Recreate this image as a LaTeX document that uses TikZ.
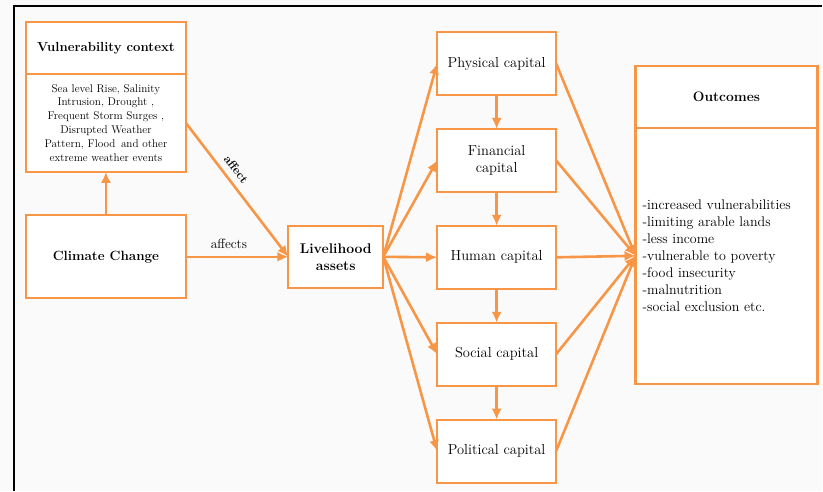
\documentclass[tikz,border=0pt]{standalone}
\usepackage{tikz}
\usetikzlibrary{arrows.meta, positioning}
\definecolor{orng}{RGB}{247,150,70}
\definecolor{bgc}{RGB}{250,250,250}
\begin{document}
\begin{tikzpicture}[
x=1pt, y=-1pt,
block/.style={draw=orng, line width=2.2pt, fill=white, outer sep=0pt, inner sep=2pt, minimum width=119pt, minimum height=63pt, align=center, font=\fontsize{14.5}{17}\selectfont},
arr/.style={-{Latex[length=11pt,width=10pt]}, draw=orng, line width=2.6pt},
node distance=34pt
]
\fill[bgc] (0,0) rectangle (823,491);
\draw[line width=1.2pt] (14,491) -- (14,6) -- (823,6);

\node[block, minimum width=160pt, minimum height=52pt, font=\fontsize{13.2}{15}\selectfont\bfseries] (vc) at (106,48) {Vulnerability context};
\node[block, minimum width=160pt, minimum height=98pt, below=0pt of vc, font=\fontsize{11.2}{13.9}\selectfont] (vcb) {Sea level Rise, Salinity\\Intrusion, Drought ,\\Frequent Storm Surges ,\\Disrupted Weather\\Pattern, Flood\, and other\\extreme weather events};
\node[block, minimum width=160pt, minimum height=83pt, font=\fontsize{13.4}{15}\selectfont\bfseries] (cc) at (106,257) {Climate Change};
\node[block, minimum width=95pt, minimum height=62pt, font=\fontsize{14}{17}\selectfont\bfseries] (la) at (336,257) {Livelihood\\assets};

\node[block] (phy) at (497,63.5) {Physical capital};
\node[block, below=of phy] (fin) {Financial\\capital};
\node[block, below=of fin] (hum) {Human capital};
\node[block, below=of hum] (soc) {Social capital};
\node[block, below=of soc] (pol) {Political capital};

\node[block, minimum width=182pt, minimum height=62pt, font=\fontsize{13.8}{16}\selectfont\bfseries] (out) at (727,97) {Outcomes};
\node[block, minimum width=182pt, minimum height=256pt, below=0pt of out, text width=168pt, inner xsep=7pt, align=left, font=\fontsize{14}{17}\selectfont] (outb) {-increased vulnerabilities\\-limiting arable lands\\-less income\\-vulnerable to poverty\\-food insecurity\\-malnutrition\\-social exclusion etc.};

\draw[arr] (cc) -- (vcb);
\draw[arr] (cc.east) -- node[pos=0.42, above=4pt, font=\fontsize{13.4}{15}\selectfont] {affects} (la.west);
\draw[arr] (vcb.east) -- node[pos=0.4, above=3pt, sloped, font=\fontsize{12}{14}\selectfont\bfseries] {affect} (la.west);

\foreach \c in {phy, fin, hum, soc, pol}
  \draw[arr] (la.east) -- (\c.west);
\draw[arr] (phy) -- (fin);
\draw[arr] (fin) -- (hum);
\draw[arr] (hum) -- (soc);
\draw[arr] (soc) -- (pol);
\foreach \c in {phy, fin, hum, soc, pol}
  \draw[arr] (\c.east) -- (outb.west);
\end{tikzpicture}
\end{document}
